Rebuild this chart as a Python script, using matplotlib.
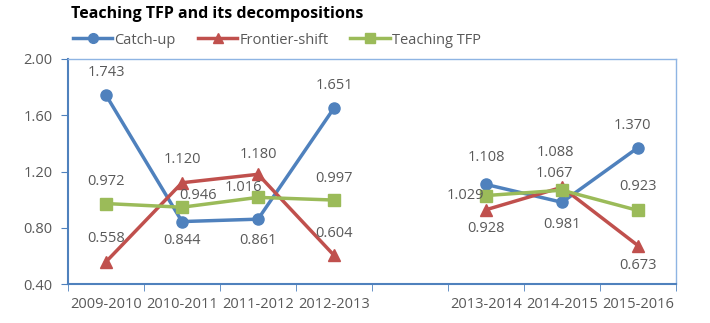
import numpy as np
import matplotlib.pyplot as plt
from matplotlib.lines import Line2D

periods = ['2009-2010', '2010-2011', '2011-2012', '2012-2013', '',
           '2013-2014', '2014-2015', '2015-2016']
catch_up = [1.743, 0.844, 0.861, 1.651, np.nan, 1.108, 0.981, 1.370]
frontier = [0.558, 1.120, 1.180, 0.604, np.nan, 0.928, 1.088, 0.673]
teaching = [0.972, 0.946, 1.016, 0.997, np.nan, 1.029, 1.067, 0.923]

# data label offsets from the point, in pixels (dx, dy up)
catch_off = [(0, 23), (0, -19), (0, -21), (0, 23), None, (0, 27), (0, -22), (-6, 22)]
front_off = [(0, 23), (0, 23), (0, 20), (0, 22), None, (0, -19), (-7, 35), (0, -20)]
teach_off = [(0, 22), (16, 12), (-15, 10), (0, 22), None, (-21, 0), (-8, 17), (0, 24)]

blue = '#4F81BD'
red = '#C0504D'
green = '#9BBB59'
grey = '#595959'

plt.rcParams['font.family'] = ['Open Sans', 'DejaVu Sans']

fig = plt.figure(figsize=(7.1, 3.23), dpi=100)
ax = fig.add_axes([68 / 710, 1 - 284 / 323, (676 - 68) / 710, (284 - 59) / 323])

x = np.arange(len(periods))
ax.plot(x, catch_up, color=blue, lw=2.5, marker='o', ms=8, label='Catch-up')
ax.plot(x, frontier, color=red, lw=2.5, marker='^', ms=8, label='Frontier-shift')
ax.plot(x, teaching, color=green, lw=2.5, marker='s', ms=8, label='Teaching TFP')

def put_labels(vals, offs):
    for i, (v, o) in enumerate(zip(vals, offs)):
        if o is None:
            continue
        ax.annotate(f'{v:.3f}', (i, v), xytext=(o[0] * 0.72, o[1] * 0.72),
                    textcoords='offset points', ha='center', va='center',
                    fontsize=10.5, color=grey)

put_labels(catch_up, catch_off)
put_labels(frontier, front_off)
put_labels(teaching, teach_off)

ax.set_xlim(-0.5, len(periods) - 0.5)
ax.set_ylim(0.40, 2.00)
ax.set_yticks([0.40, 0.80, 1.20, 1.60, 2.00])
ax.set_yticklabels(['0.40', '0.80', '1.20', '1.60', '2.00'])
ax.set_xticks(x)
ax.set_xticklabels(periods)
ax.set_xticks(np.arange(-0.5, len(periods)), minor=True)
ax.tick_params(axis='x', which='major', length=0, pad=9, labelsize=10.5, labelcolor=grey)
ax.tick_params(axis='x', which='minor', length=5, color=blue, direction='out')
ax.tick_params(axis='y', length=5, color=blue, labelsize=10.5, labelcolor=grey, pad=6)

for side in ['left', 'bottom']:
    ax.spines[side].set_color(blue)
    ax.spines[side].set_linewidth(1.5)
for side in ['top', 'right']:
    ax.spines[side].set_color('#8EB4E3')
    ax.spines[side].set_linewidth(1)

fig.text(71 / 710, 1 - 14 / 323, 'Teaching TFP and its decompositions', fontsize=11.5,
         fontweight='bold', color='black', va='center')

handles = [Line2D([], [], color=blue, lw=2.5, marker='o', ms=7),
           Line2D([], [], color=red, lw=2.5, marker='^', ms=7),
           Line2D([], [], color=green, lw=2.5, marker='s', ms=7)]
fig.legend(handles, ['Catch-up', 'Frontier-shift', 'Teaching TFP'], loc='center left',
           bbox_to_anchor=(73 / 710, 1 - 40 / 323), ncol=3, frameon=False, fontsize=10.5,
           handlelength=2.7, handletextpad=0.15, columnspacing=1.5, labelcolor=grey,
           borderaxespad=0, borderpad=0)

fig.savefig('out.png', dpi=100)
